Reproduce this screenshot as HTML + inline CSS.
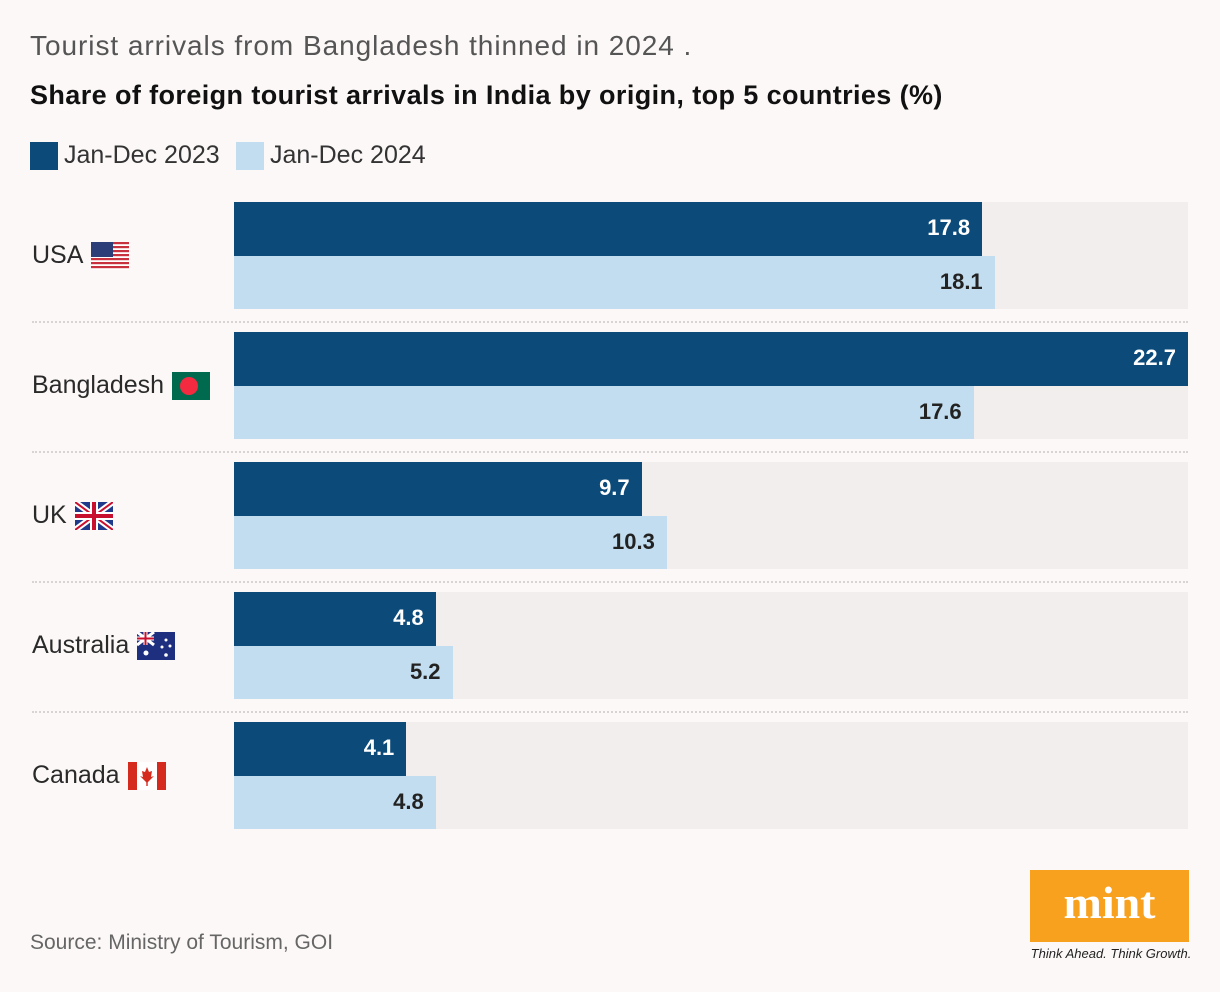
<!DOCTYPE html>
<html><head><meta charset="utf-8"><style>
body{margin:0;width:1220px;height:992px;background:#fdf8f8;font-family:"Liberation Sans",sans-serif;position:relative;overflow:hidden;color:#222}
.abs{position:absolute}
.lbl{position:absolute;left:32px;font-size:25px;color:#2a2a2a;display:flex;align-items:center;gap:8px;height:40px}
</style></head><body>
<div class="abs" style="left:30px;top:30px;font-size:28px;color:#555;letter-spacing:0.95px">Tourist arrivals from Bangladesh thinned in 2024 .</div>
<div class="abs" style="left:30px;top:80px;font-size:27px;font-weight:bold;color:#111;letter-spacing:0.4px">Share of foreign tourist arrivals in India by origin, top 5 countries (%)</div>
<div class="abs" style="left:30px;top:141px;display:flex;align-items:center;gap:6px;font-size:25px;color:#333"><span style="width:28px;height:28px;background:#0c4a7a;display:inline-block"></span>Jan-Dec 2023</div>
<div class="abs" style="left:236px;top:141px;display:flex;align-items:center;gap:6px;font-size:25px;color:#333"><span style="width:28px;height:28px;background:#c2ddef;display:inline-block"></span>Jan-Dec 2024</div>
<div id="chart"></div>
<div class="abs" style="left:30px;top:931px;font-size:21px;color:#666">Source: Ministry of Tourism, GOI</div>
<div class="abs" style="left:1030px;top:870px;width:159px;height:72px;background:#f7a11e;color:#fff;font-family:'Liberation Serif',serif;font-weight:bold;font-size:46px;text-align:center;line-height:66px">mint</div>
<div class="abs" style="left:1030px;top:946px;font-size:13px;font-style:italic;color:#222;width:162px;text-align:center">Think Ahead. Think Growth.</div>
<script>
const categories=["USA","Bangladesh","UK","Australia","Canada"];
const values2023=[17.8,22.7,9.7,4.8,4.1];
const values2024=[18.1,17.6,10.3,5.2,4.8];
const maxVal=22.7;
const flags={
USA:'<svg width="38" height="28" viewBox="0 0 38 28"><rect width="38" height="28" fill="#fff"/>'+[0,1,2,3,4,5,6].map(i=>'<rect y="'+(i*4)+'" width="38" height="2.2" fill="#c8313e"/>').join('')+'<rect width="22" height="15" fill="#2c3e77"/></svg>',
Bangladesh:'<svg width="38" height="28"><rect width="38" height="28" fill="#006a4e"/><circle cx="17" cy="14" r="9" fill="#f42a41"/></svg>',
UK:'<svg width="38" height="28"><rect width="38" height="28" fill="#1f3a8a"/><path d="M0 0L38 28M38 0L0 28" stroke="#fff" stroke-width="6"/><path d="M0 0L38 28M38 0L0 28" stroke="#c8102e" stroke-width="2"/><path d="M19 0V28M0 14H38" stroke="#fff" stroke-width="8"/><path d="M19 0V28M0 14H38" stroke="#c8102e" stroke-width="4"/></svg>',
Australia:'<svg width="38" height="28"><rect width="38" height="28" fill="#1f2f80"/><path d="M0 0L17 13M17 0L0 13" stroke="#fff" stroke-width="3"/><path d="M8.5 0V13M0 6.5H17" stroke="#fff" stroke-width="4"/><path d="M8.5 0V13M0 6.5H17" stroke="#c8102e" stroke-width="2"/><circle cx="9" cy="21" r="2.5" fill="#fff"/><circle cx="29" cy="8" r="1.5" fill="#fff"/><circle cx="25" cy="15" r="1.5" fill="#fff"/><circle cx="33" cy="14" r="1.5" fill="#fff"/><circle cx="29" cy="23" r="1.8" fill="#fff"/></svg>',
Canada:'<svg width="38" height="28"><rect width="38" height="28" fill="#fff"/><rect width="9" height="28" fill="#d52b1e"/><rect x="29" width="9" height="28" fill="#d52b1e"/><path d="M19 5L21 10L24 9L23 15L26 14L19 21L12 14L15 15L14 9L17 10Z" fill="#d52b1e"/><rect x="18.3" y="19" width="1.4" height="5" fill="#d52b1e"/></svg>'
};
const X0=234,W=954,TOP=202,PITCH=130,BH=53.5;
const x=v=>v/maxVal*W;
const c=document.getElementById('chart');
function mk(style,html){const d=document.createElement('div');d.className='abs';d.style.cssText=style;if(html)d.innerHTML=html;c.appendChild(d);return d;}
categories.forEach((cat,i)=>{
 const y=TOP+i*PITCH;
 const t=mk(`left:${X0}px;top:${y}px;width:${W}px;height:${BH*2}px;background:#f3eeee`);
 
 
 const l=document.createElement('div');l.className='lbl';l.style.top=(y+BH-20)+'px';l.innerHTML=cat+' '+flags[cat];c.appendChild(l);
 
 
 [[values2023[i],'#0c4a7a','#fff','2023'],[values2024[i],'#c2ddef','#222','2024']].forEach(([v,bg,fg,yr],k)=>{
  const b=mk(`left:${X0}px;top:${y+k*BH}px;width:${x(v)}px;height:${BH}px;background:${bg}`);
  
  
  const t2=mk(`left:${X0}px;top:${y+k*BH+13}px;width:${x(v)-12}px;font-size:22px;font-weight:bold;text-align:right;color:${fg}`,String(v));
  
  
 });
 if(i<categories.length-1){
  const s=mk(`left:32px;top:${y+119}px;width:1156px;height:0;border-top:2px dotted #d8d4d4`);
  
  
 }
});
</script>
</body></html>
